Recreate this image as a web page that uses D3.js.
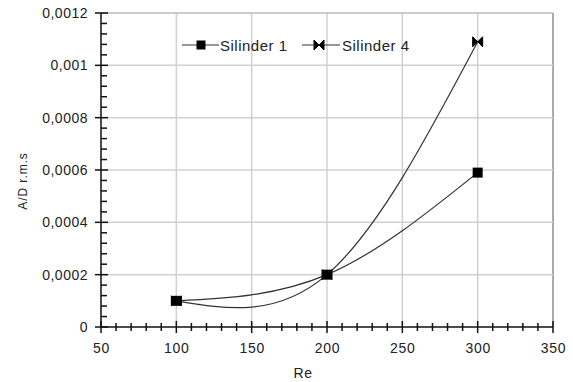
<!DOCTYPE html>
<html><head><meta charset="utf-8">
<script src="https://cdn.jsdelivr.net/npm/d3@7"></script>
<style>body{margin:0;background:#fff}svg{display:block}text{font-family:"Liberation Sans",Arial,sans-serif;fill:#222}</style>
</head><body>
<script>
const re = [100, 200, 300];
const silinder1 = [0.0001, 0.0002, 0.00059];
const silinder4 = [0.0001, 0.0002, 0.00109];
const seriesNames = ["Silinder 1", "Silinder 4"];
const xTicks = [50, 100, 150, 200, 250, 300, 350];
const yTicks = [0, 0.0002, 0.0004, 0.0006, 0.0008, 0.001, 0.0012];
const yTickLabels = ["0", "0,0002", "0,0004", "0,0006", "0,0008", "0,001", "0,0012"];

const W = 573, H = 382;
const m = {l: 101, r: 20, t: 13, b: 55};
const svg = d3.select("body").append("svg").attr("width", W).attr("height", H);
const x = d3.scaleLinear().domain([50, 350]).range([m.l, W - m.r]);
const y = d3.scaleLinear().domain([0, 0.0012]).range([H - m.b, m.t]);

// grid
svg.append("g").selectAll("line").data(xTicks.slice(1)).join("line")
  .attr("x1", d => x(d)).attr("x2", d => x(d)).attr("y1", y(0)).attr("y2", y(0.0012))
  .attr("stroke", d => d === 350 ? "#aaa" : "#d0d0d0").attr("stroke-width", d => d === 350 ? 2 : 1.5);
svg.append("g").selectAll("line").data(yTicks.slice(1)).join("line")
  .attr("x1", x(50)).attr("x2", x(350)).attr("y1", d => y(d)).attr("y2", d => y(d))
  .attr("stroke", d => d === 0.0012 ? "#bbb" : "#d0d0d0").attr("stroke-width", 1.5);

// axes
const xMinor = d3.range(50, 351, 10);
const yMinor = d3.range(0, 31).map(i => i * 0.00004);
const gx = svg.append("g");
gx.append("line").attr("x1", x(50)).attr("x2", x(350)).attr("y1", y(0)).attr("y2", y(0)).attr("stroke", "#111").attr("stroke-width", 1.5);
gx.selectAll(".mt").data(xMinor).join("line")
  .attr("x1", d => x(d)).attr("x2", d => x(d))
  .attr("y1", d => y(0) - (d % 50 === 0 ? 6 : 4)).attr("y2", d => y(0) + (d % 50 === 0 ? 6 : 4))
  .attr("stroke", "#111").attr("stroke-width", 1.5);
gx.selectAll("text").data(xTicks).join("text")
  .attr("x", d => x(d) + 0.5).attr("y", 353).attr("text-anchor", "middle").attr("font-size", 14)
  .attr("letter-spacing", 0.7).text(d => d);
svg.append("text").attr("x", 303).attr("y", 378).attr("text-anchor", "middle").attr("font-size", 14)
  .attr("letter-spacing", 0.5).text("Re");

const gy = svg.append("g");
gy.append("line").attr("x1", x(50)).attr("x2", x(50)).attr("y1", y(0)).attr("y2", y(0.0012)).attr("stroke", "#111").attr("stroke-width", 1.5);
gy.selectAll(".mt").data(yMinor).join("line")
  .attr("y1", d => y(d)).attr("y2", d => y(d))
  .attr("x1", (d, i) => x(50) - (i % 5 === 0 ? 6 : 0)).attr("x2", (d, i) => x(50) + (i % 5 === 0 ? 7 : 6))
  .attr("stroke", "#111").attr("stroke-width", 1.5);
gy.selectAll("text").data(yTicks).join("text")
  .attr("x", 88).attr("y", d => y(d) + 5).attr("text-anchor", "end").attr("font-size", 14)
  .attr("letter-spacing", 0.5).text((d, i) => yTickLabels[i]);
svg.append("text").attr("transform", `translate(27,181) rotate(-90)`)
  .attr("text-anchor", "middle").attr("font-size", 12).attr("letter-spacing", 0.9).text("A/D r.m.s");

// lines
const line = d3.line().x(d => x(d[0])).y(d => y(d[1])).curve(d3.curveNatural);
const data1 = re.map((r, i) => [r, silinder1[i]]);
const data4 = re.map((r, i) => [r, silinder4[i]]);
[data1, data4].forEach(d => svg.append("path").attr("d", line(d)).attr("fill", "none").attr("stroke", "#333").attr("stroke-width", 1.2));

function square(g, cx, cy, s) {
  g.append("rect").attr("x", cx - s / 2).attr("y", cy - s / 2).attr("width", s).attr("height", s).attr("fill", "#000");
}
function bowtie(g, cx, cy) {
  g.append("path").attr("d", `M${cx - 5},${cy - 5}L${cx},${cy}L${cx - 5},${cy + 5}Z M${cx + 5},${cy - 5}L${cx},${cy}L${cx + 5},${cy + 5}Z`)
    .attr("fill", "#000").attr("stroke", "#000").attr("stroke-width", 1);
}
data4.forEach(d => bowtie(svg, x(d[0]), y(d[1])));
data1.forEach(d => square(svg, x(d[0]), y(d[1]), 10));

// legend
const ly = 45;
const leg = svg.append("g");
leg.append("line").attr("x1", 182).attr("x2", 219).attr("y1", ly).attr("y2", ly).attr("stroke", "#333").attr("stroke-width", 1.2);
square(leg, 201, ly, 9);
leg.append("text").attr("x", 220).attr("y", ly + 6).attr("font-size", 15).attr("letter-spacing", 0.5).text(seriesNames[0]);
leg.append("line").attr("x1", 302).attr("x2", 340).attr("y1", ly).attr("y2", ly).attr("stroke", "#333").attr("stroke-width", 1.2);
bowtie(leg, 319, ly);
leg.append("text").attr("x", 342).attr("y", ly + 6).attr("font-size", 15).attr("letter-spacing", 0.5).text(seriesNames[1]);
</script>
</body></html>
